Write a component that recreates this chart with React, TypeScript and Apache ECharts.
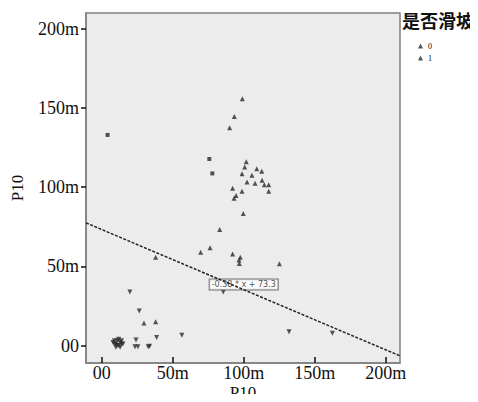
import React, { useEffect, useRef } from "react";
import * as echarts from "echarts";

const xTicks = [0, 50, 100, 150, 200];
const yTicks = [0, 50, 100, 150, 200];
const tickLabel = (v: number) => (v === 0 ? "00" : v + "m");

const legendTitle = "是否滑坡";
const groupNames = ["0", "1"];

// group 0 (not landslide)
const group0: number[][] = [
  [19.9, 33.9], [26.5, 21.8], [24.2, 3.6], [38.7, 5.1], [56.5, 6.6], [131.9, 8.7],
  [162.4, 7.8], [85.6, 33.9], [23.5, -0.8], [25.5, -0.8], [32.8, -0.8], [33.8, -0.5],
  [8, 2], [9, 3], [10, 1], [11, 3], [12, 0], [13, 2], [14, 1], [10, -1], [12, 4],
  [15, 1], [11, 0], [13, -1], [9, 1], [14, 3],
];
// group 1 (landslide)
const group1: number[][] = [
  [99.0, 155.9], [93.4, 144.7], [90.1, 137.5], [101.8, 116.1], [100.7, 112.7],
  [109.2, 111.6], [112.7, 110.1], [98.8, 108.5], [105.8, 107.6], [112.9, 104.4],
  [102.3, 103.3], [108.0, 102.5], [114.5, 101.5], [117.6, 101.5], [117.6, 97.4],
  [92.2, 99.3], [98.8, 97.4], [94.6, 94.7], [93.2, 93.0], [99.7, 83.4], [83.1, 73.3],
  [76.3, 61.8], [69.7, 58.9], [38.0, 55.7], [92.2, 57.8], [97.6, 55.7], [96.7, 54.0],
  [96.9, 51.9], [125.1, 51.7], [29.8, 14.2], [38.0, 15.0],
];
const group1Square: number[][] = [[4.2, 133.0], [75.8, 117.8], [77.9, 108.7]];

const slope = -0.38;
const intercept = 73.3;
const fitLabel = "-0.38 * x + 73.3";
const fitLabelAt = [100, 38.5];

const axMin = -11;
const axMax = 210;

export default function App() {
  const ref = useRef<HTMLDivElement>(null);
  useEffect(() => {
    const chart = echarts.init(ref.current!, null, { renderer: "svg" });
    const serif = "Liberation Serif";
    const axisCommon = {
      type: "value" as const,
      min: axMin,
      max: axMax,
      splitLine: { show: false },
      axisLine: { show: true, onZero: false, lineStyle: { color: "#808080", width: 1.5 } },
      nameTextStyle: { fontFamily: serif, fontSize: 17, color: "#111", lineHeight: 14 },
    };
    chart.setOption({
      animation: false,
      backgroundColor: "#ffffff",
      grid: {
        left: 86, top: 13, right: 78, bottom: 39,
        outerBoundsMode: "none",
        containLabel: false,
        show: true, backgroundColor: "#ececec", borderColor: "#808080", borderWidth: 1.5,
      },
      xAxis: {
        ...axisCommon,
        name: "P10",
        nameLocation: "middle",
        nameGap: 22,
        nameMoveOverlap: false,
        axisTick: { show: true, inside: true, length: 6, customValues: xTicks, lineStyle: { color: "#111", width: 1.5 } },
        axisLabel: { customValues: xTicks, formatter: tickLabel, fontFamily: serif, fontSize: 18, lineHeight: 14, color: "#111", margin: 3 },
      },
      yAxis: {
        ...axisCommon,
        name: "P10",
        nameLocation: "middle",
        nameGap: 62,
        nameRotate: 90,
        axisTick: { show: true, inside: false, length: 5, customValues: yTicks, lineStyle: { color: "#111", width: 1.5 } },
        axisLabel: { customValues: yTicks, formatter: tickLabel, fontFamily: serif, fontSize: 18, color: "#111", margin: 7 },
      },
      legend: {
        orient: "vertical",
        left: 413,
        top: 37,
        itemWidth: 5,
        itemHeight: 5,
        itemGap: 4,
        data: groupNames,
        textStyle: { fontSize: 8, color: "#000", fontFamily: serif },
      },
      graphic: [
        {
          type: "text",
          left: 402,
          top: 11,
          style: { text: legendTitle, font: "bold 18px 'Noto Sans CJK SC'", fill: "#111" },
        },
      ],
      series: [
        {
          type: "line",
          data: [[axMin, slope * axMin + intercept], [axMax, slope * axMax + intercept]],
          symbol: "none",
          lineStyle: { color: "#222", width: 1.5, type: [3, 1.5] },
          silent: true,
        },
        {
          name: groupNames[0],
          type: "scatter",
          data: group0,
          symbol: "triangle",
          symbolRotate: 180,
          symbolSize: 5,
          itemStyle: { color: "#2a2a2a" },
        },
        {
          name: groupNames[1],
          type: "scatter",
          data: group1,
          symbol: "triangle",
          symbolSize: 5,
          itemStyle: { color: "#2a2a2a" },
        },
        {
          type: "scatter",
          data: group1Square,
          symbol: "rect",
          symbolSize: 4,
          itemStyle: { color: "#2a2a2a" },
        },
        {
          type: "scatter",
          data: [fitLabelAt],
          symbolSize: 0,
          silent: true,
          label: {
            show: true,
            position: "inside",
            formatter: fitLabel,
            fontSize: 8,
            fontFamily: "DejaVu Sans",
            color: "#222",
            backgroundColor: "#ffffff",
            borderColor: "#555",
            borderWidth: 1,
            padding: [1, 2],
          },
        },
      ],
    });
    return () => chart.dispose();
  }, []);
  return <div ref={ref} style={{ width: 478, height: 402, margin: -8 }} />;
}
